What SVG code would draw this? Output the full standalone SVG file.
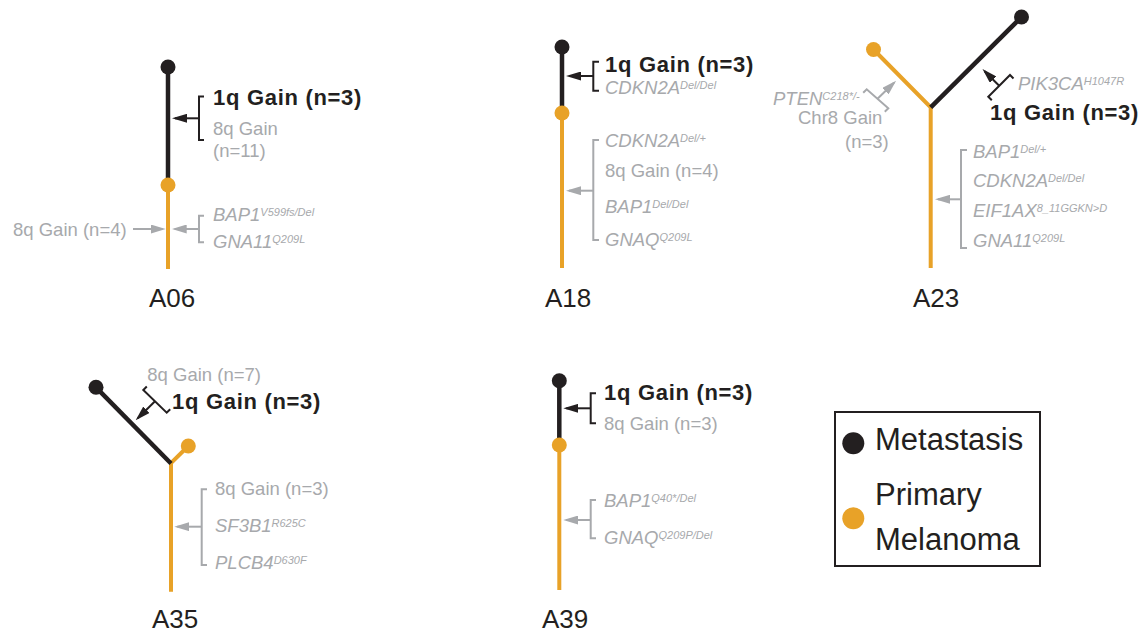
<svg xmlns="http://www.w3.org/2000/svg" width="1147" height="634" viewBox="0 0 1147 634">
<defs>
<style>
.blk{stroke:#231f20;stroke-width:4.5;fill:none}
.org{stroke:#e8a228;stroke-width:4;fill:none}
.cb{fill:#231f20}
.co{fill:#e8a228}
.brk{stroke:#231f20;stroke-width:2;fill:none}
.brg{stroke:#a7a9ac;stroke-width:2;fill:none}
.ab{stroke:#231f20;stroke-width:2;fill:none;marker-end:url(#hb)}
.ag{stroke:#a7a9ac;stroke-width:2;fill:none;marker-end:url(#hg)}
text{font-family:"Liberation Sans",Arial,sans-serif}
.bold{font-size:22px;font-weight:bold;fill:#231f20;letter-spacing:0.7px}
.gr{font-size:18.5px;fill:#a7a9ac}
.it{font-size:18.5px;font-style:italic;fill:#a7a9ac}
.sup{font-size:11px}
.lab{font-size:26px;fill:#231f20}
.leg{font-size:31px;fill:#231f20}
</style>
<marker id="hb" markerUnits="userSpaceOnUse" markerWidth="15" markerHeight="9" refX="12" refY="4.5" orient="auto" viewBox="0 0 15 9"><path d="M0,0 L15,4.5 L0,9 z" fill="#231f20"/></marker>
<marker id="hg" markerUnits="userSpaceOnUse" markerWidth="15" markerHeight="9" refX="12" refY="4.5" orient="auto" viewBox="0 0 15 9"><path d="M0,0 L15,4.5 L0,9 z" fill="#a7a9ac"/></marker>
</defs>
<rect width="1147" height="634" fill="#fff"/>

<g id="tree-A06">
<path class="org" d="M168 185 V269"/>
<path class="blk" d="M168 67 V185"/>
<circle class="cb" cx="168" cy="67" r="7.5"/>
<circle class="co" cx="168" cy="185" r="7.5"/>
<text class="bold" x="213" y="105">1q Gain (n=3)</text>
<text class="gr" x="213" y="135">8q Gain</text>
<text class="gr" x="213" y="157">(n=11)</text>
<text class="gr" x="13" y="236">8q Gain (n=4)</text>
<text class="it" x="213" y="221">BAP1<tspan class="sup" dy="-5">V599fs/Del</tspan></text>
<text class="it" x="213" y="248">GNA11<tspan class="sup" dy="-5">Q209L</tspan></text>
<text class="lab" x="149" y="307">A06</text>
</g>

<g id="tree-A18">
<path class="org" d="M562 113 V268"/>
<path class="blk" d="M562 47 V113"/>
<circle class="cb" cx="562" cy="47" r="7.5"/>
<circle class="co" cx="562" cy="113" r="7.5"/>
<text class="bold" x="605" y="72">1q Gain (n=3)</text>
<text class="it" x="605" y="93.5">CDKN2A<tspan class="sup" dy="-5">Del/Del</tspan></text>
<text class="it" x="605" y="147">CDKN2A<tspan class="sup" dy="-5">Del/+</tspan></text>
<text class="gr" x="605" y="177">8q Gain (n=4)</text>
<text class="it" x="605" y="213">BAP1<tspan class="sup" dy="-5">Del/Del</tspan></text>
<text class="it" x="605" y="246">GNAQ<tspan class="sup" dy="-5">Q209L</tspan></text>
<text class="lab" x="545" y="307">A18</text>
</g>

<g id="tree-A23">
<path class="org" d="M873.5 49.5 L930.7 107.3 V268"/>
<path class="blk" d="M930.7 107.3 L1021.5 17"/>
<circle class="cb" cx="1021.5" cy="17" r="7.5"/>
<circle class="co" cx="873.5" cy="49.5" r="7.5"/>
<text class="it" x="773" y="105">PTEN<tspan class="sup" dy="-5">C218*/-</tspan></text>
<text class="gr" x="798" y="124">Chr8 Gain</text>
<text class="gr" x="845" y="148">(n=3)</text>
<text class="it" x="1018" y="90">PIK3CA<tspan class="sup" dy="-5">H1047R</tspan></text>
<text class="bold" x="990" y="120">1q Gain (n=3)</text>
<text class="it" x="973" y="158">BAP1<tspan class="sup" dy="-5">Del/+</tspan></text>
<text class="it" x="973" y="187">CDKN2A<tspan class="sup" dy="-5">Del/Del</tspan></text>
<text class="it" x="973" y="217">EIF1AX<tspan class="sup" dy="-5">8_11GGKN&gt;D</tspan></text>
<text class="it" x="973" y="247">GNA11<tspan class="sup" dy="-5">Q209L</tspan></text>
<text class="lab" x="913" y="307">A23</text>
</g>

<g id="tree-A35">
<path class="org" d="M171 591.7 V463 L188.3 446"/>
<path class="blk" d="M96 387.3 L171 463.5"/>
<circle class="cb" cx="96" cy="387.3" r="7.5"/>
<circle class="co" cx="188.3" cy="446" r="7.5"/>
<text class="gr" x="147.3" y="381">8q Gain (n=7)</text>
<text class="bold" x="172" y="408.5">1q Gain (n=3)</text>
<text class="gr" x="215" y="495">8q Gain (n=3)</text>
<text class="it" x="215" y="532">SF3B1<tspan class="sup" dy="-5">R625C</tspan></text>
<text class="it" x="215" y="568.5">PLCB4<tspan class="sup" dy="-5">D630F</tspan></text>
<text class="lab" x="152" y="628">A35</text>
</g>

<g id="tree-A39">
<path class="org" d="M559.3 445 V590"/>
<path class="blk" d="M559.3 380.7 V445"/>
<circle class="cb" cx="559.3" cy="380.7" r="7.5"/>
<circle class="co" cx="559.3" cy="445" r="7.5"/>
<text class="bold" x="604" y="399.5">1q Gain (n=3)</text>
<text class="gr" x="604" y="430">8q Gain (n=3)</text>
<text class="it" x="604" y="507">BAP1<tspan class="sup" dy="-5">Q40*/Del</tspan></text>
<text class="it" x="604" y="543.5">GNAQ<tspan class="sup" dy="-5">Q209P/Del</tspan></text>
<text class="lab" x="542" y="628">A39</text>
</g>

<g id="legend">
<rect x="835" y="412" width="205" height="154" fill="#fff" stroke="#231f20" stroke-width="2"/>
<circle class="cb" cx="853.3" cy="443.3" r="11"/>
<circle class="co" cx="853.3" cy="518.3" r="11"/>
<text class="leg" x="875" y="450">Metastasis</text>
<text class="leg" x="875" y="505">Primary</text>
<text class="leg" x="875" y="550">Melanoma</text>
</g>

<g id="connectors">
<!-- A06 -->
<path class="brk" d="M204 96.5 H199 V140 H204"/>
<line class="ab" x1="199" y1="118.3" x2="175" y2="118.3"/>
<line class="ag" x1="133" y1="229" x2="162.7" y2="229"/>
<path class="brg" d="M204 215.7 H199 V242.3 H204"/>
<line class="ag" x1="199" y1="229" x2="174.7" y2="229"/>
<!-- A18 -->
<path class="brk" d="M599 61.7 H593.3 V90.7 H599"/>
<line class="ab" x1="593.3" y1="76" x2="569" y2="76"/>
<path class="brg" d="M599 140 H593.3 V240 H599"/>
<line class="ag" x1="593.3" y1="190.7" x2="569" y2="190.7"/>
<!-- A23 -->
<path class="brk" d="M991.8 100.2 L988.3 96.7 L1010 75 L1013.5 78.5"/>
<line class="ab" x1="999.2" y1="85.8" x2="984.6" y2="71.2"/>
<path class="brg" d="M863.2 92.8 L866.7 89.3 L888.3 108.3 L884.8 111.8"/>
<line class="ag" x1="877.5" y1="98.8" x2="894" y2="82.8"/>
<path class="brg" d="M967 150 H961 V248 H967"/>
<line class="ag" x1="961" y1="199.3" x2="938" y2="199.3"/>
<!-- A35 -->
<path class="brk" d="M146.8 386.5 L143.3 390 L166.7 412.7 L170.2 409.2"/>
<line class="ab" x1="155" y1="401.3" x2="137.8" y2="418.2"/>
<path class="brg" d="M207 489.3 H201.7 V565 H207"/>
<line class="ag" x1="201.7" y1="526.7" x2="177.3" y2="526.7"/>
<!-- A39 -->
<path class="brk" d="M596 393.3 H590.7 V423.3 H596"/>
<line class="ab" x1="590.7" y1="408.3" x2="566.3" y2="408.3"/>
<path class="brg" d="M596 500 H590.7 V538.3 H596"/>
<line class="ag" x1="590.7" y1="520" x2="566.3" y2="520"/>
</g>
</svg>
